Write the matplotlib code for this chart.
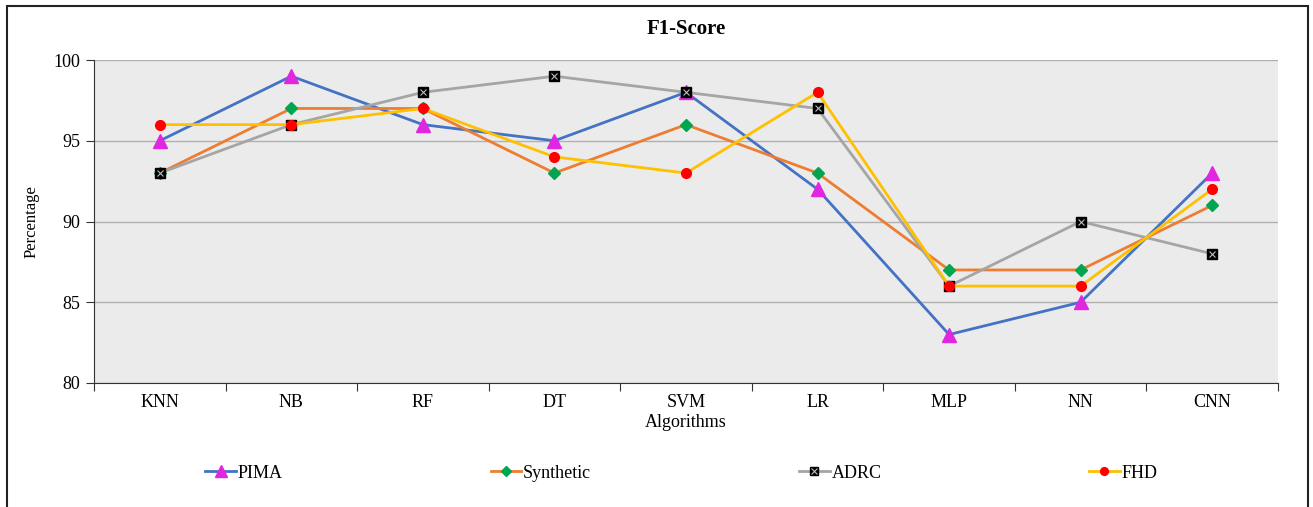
import matplotlib.pyplot as plt
from matplotlib.legend_handler import HandlerTuple

# F1-score per algorithm for each dataset
algorithms = ['KNN', 'NB', 'RF', 'DT', 'SVM', 'LR', 'MLP', 'NN', 'CNN']
pima = [95, 99, 96, 95, 98, 92, 83, 85, 93]
synthetic = [93, 97, 97, 93, 96, 93, 87, 87, 91]
adrc = [93, 96, 98, 99, 98, 97, 86, 90, 88]
fhd = [96, 96, 97, 94, 93, 98, 86, 86, 92]

plt.rcParams['font.family'] = ['Liberation Serif', 'DejaVu Serif']

fig = plt.figure(figsize=(13.13, 5.07), dpi=100)
ax = fig.add_axes([0.0716, 0.2446, 0.9017, 0.637])
ax.set_facecolor('#EBEBEB')

x = range(len(algorithms))
l1, = ax.plot(x, pima, color='#4472C4', lw=2, marker='^', ms=10,
              mfc='#E026E0', mec='#E026E0', zorder=3)
l2, = ax.plot(x, synthetic, color='#ED7D31', lw=2, marker='D', ms=6,
              mfc='#00A550', mec='#00A550', zorder=4)
l3, = ax.plot(x, adrc, color='#A5A5A5', lw=2, marker='s', ms=7,
              mfc='black', mec='black', zorder=5)
l3x, = ax.plot(x, adrc, ls='none', marker='x', ms=5, mew=0.8,
               color='#BBBBBB', zorder=6)
l4, = ax.plot(x, fhd, color='#FFC000', lw=2, marker='o', ms=7,
              mfc='#FF0000', mec='#FF0000', zorder=7)

ax.set_xlim(-0.5, len(algorithms) - 0.5)
ax.set_ylim(80, 100)
ax.set_yticks([80, 85, 90, 95, 100])
ax.set_xticks([i - 0.5 for i in range(len(algorithms) + 1)])
ax.set_xticklabels([])
ax.set_xticks(list(x), minor=True)
ax.set_xticklabels(algorithms, minor=True)
ax.tick_params(axis='x', which='minor', length=0, pad=8, labelsize=13)
ax.tick_params(axis='x', which='major', length=6, direction='out', color='#333333')
ax.tick_params(axis='y', length=6, direction='out', labelsize=13, pad=4, color='#333333')

ax.grid(axis='y', color='#B0B0B0', lw=1)
ax.set_axisbelow(True)
for side in ['top', 'right']:
    ax.spines[side].set_visible(False)
for side in ['left', 'bottom']:
    ax.spines[side].set_color('#333333')

ax.set_title('F1-Score', fontsize=15, fontweight='bold', pad=19)
ax.set_xlabel('Algorithms', fontsize=13, labelpad=2)
ax.set_ylabel('Percentage', fontsize=12, labelpad=10)

fig.legend([l1, l2, (l3, l3x), l4], ['PIMA', 'Synthetic', 'ADRC', 'FHD'],
           handler_map={tuple: HandlerTuple(ndivide=1)},
           loc='center', bbox_to_anchor=(0.519, 0.067), ncol=4,
           frameon=False, fontsize=13, handlelength=1.7, handletextpad=0.1,
           columnspacing=11.5, markerscale=0.8)

# outer frame around the whole chart
fig.add_artist(plt.Rectangle((7 / 1313, -0.05), 1301 / 1313, 1 - 6 / 507 + 0.05,
                             transform=fig.transFigure, fill=False,
                             edgecolor='#222222', lw=1.5))

fig.savefig('out.png', dpi=100)
